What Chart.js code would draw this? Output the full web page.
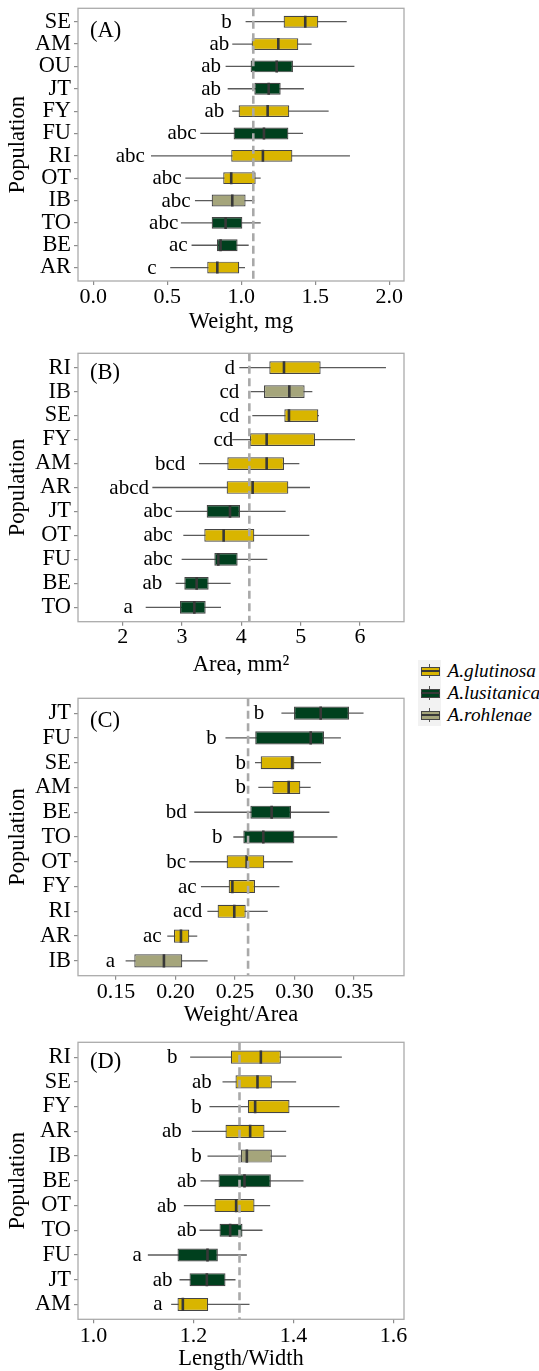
<!DOCTYPE html>
<html>
<head>
<meta charset="utf-8">
<script src="https://cdn.jsdelivr.net/npm/chart.js@4.4.1/dist/chart.umd.min.js"></script>
<style>
html,body{margin:0;padding:0;background:#fff;width:539px;height:1371px;overflow:hidden;position:relative;font-family:'Liberation Serif','Times New Roman',serif;}
canvas{position:absolute;left:0;}
#legend{position:absolute;left:418px;top:660px;}
.row{display:flex;align-items:center;height:22px;}
.key{position:relative;width:23px;height:22px;background:#f2f2f2;flex:none;}
.wh{position:absolute;left:11px;top:4px;width:1.3px;height:14px;background:#555;}
.bx{position:absolute;left:2.5px;top:6.5px;width:19px;height:9px;box-sizing:border-box;border:1.2px solid #454545;}
.md{position:absolute;left:2.5px;top:10px;width:19px;height:2px;background:#383838;}
.lab{font-style:italic;font-size:19.3px;margin-left:6.5px;white-space:nowrap;color:#000;line-height:22px;}
</style>
</head>
<body>
<div id="legend"></div>
<script>
// ---------- Panel A : Weight, mg ----------
const catsA = ['SE','AM','OU','JT','FY','FU','RI','OT','IB','TO','BE','AR'];
const speciesA = ['g','g','l','l','g','l','g','g','r','l','l','g'];
const minA = [1.029,0.939,0.894,0.908,0.939,0.723,0.390,0.622,0.687,0.592,0.664,0.520];
const q1A  = [1.286,1.070,1.063,1.088,0.982,0.948,0.932,0.878,0.800,0.800,0.836,0.770];
const medA = [1.432,1.250,1.239,1.185,1.178,1.153,1.146,0.932,0.939,0.894,0.860,0.838];
const q3A  = [1.520,1.385,1.349,1.266,1.324,1.318,1.345,1.097,1.029,1.007,0.975,0.986];
const maxA = [1.712,1.475,1.764,1.423,1.590,1.417,1.734,1.131,1.088,1.131,1.050,1.025];
const lettersA = ['b','ab','ab','ab','ab','abc','abc','abc','abc','abc','ac','c'];
const letterPosA = [0.935,0.919,0.863,0.863,0.885,0.698,0.349,0.597,0.658,0.574,0.637,0.428];
const meanA = 1.081;
const ticksA = [0,0.5,1,1.5,2];
const tickLabelsA = ['0.0','0.5','1.0','1.5','2.0'];

// ---------- Panel B : Area, mm2 ----------
const catsB = ['RI','IB','SE','FY','AM','AR','JT','OT','FU','BE','TO'];
const speciesB = ['g','r','g','g','g','g','l','g','l','l','l'];
const minB = [3.966,4.157,4.185,3.848,3.287,2.500,2.893,3.022,2.994,2.893,2.388];
const q1B  = [4.472,4.382,4.725,4.146,3.764,3.753,3.416,3.376,3.545,3.039,2.966];
const medB = [4.719,4.809,4.803,4.427,4.427,4.191,3.809,3.702,3.612,3.247,3.208];
const q3B  = [5.337,5.067,5.298,5.242,4.719,4.792,3.978,4.219,3.938,3.449,3.399];
const maxB = [6.438,5.197,5.309,5.916,4.978,5.157,4.747,5.146,4.438,3.820,3.657];
const lettersB = ['d','cd','cd','cd','bcd','abcd','abc','abc','abc','ab','a'];
const letterPosB = [3.893,3.966,3.966,3.865,3.056,2.444,2.843,2.843,2.843,2.669,2.169];
const meanB = 4.135;
const ticksB = [2,3,4,5,6];
const tickLabelsB = ['2','3','4','5','6'];

// ---------- Panel C : Weight/Area ----------
const catsC = ['JT','FU','SE','AM','BE','TO','OT','FY','RI','AR','IB'];
const speciesC = ['l','l','g','g','l','l','g','g','g','g','r'];
const minC = [0.2890,0.2420,0.2668,0.2696,0.2158,0.2486,0.2116,0.2214,0.2268,0.1931,0.1581];
const q1C  = [0.2996,0.2670,0.2716,0.2814,0.2629,0.2570,0.2430,0.2447,0.2354,0.1987,0.1654];
const medC = [0.3220,0.3136,0.2980,0.2951,0.2808,0.2738,0.2598,0.2478,0.2494,0.2046,0.1903];
const q3C  = [0.3458,0.3248,0.2999,0.3049,0.2971,0.2999,0.2746,0.2668,0.2590,0.2116,0.2057];
const maxC = [0.3580,0.3390,0.3223,0.3136,0.3293,0.3360,0.2985,0.2873,0.2775,0.2183,0.2270];
const lettersC = ['b','b','b','b','bd','b','bc','ac','acd','ac','a'];
const letterPosC = [0.2746,0.2346,0.2592,0.2592,0.2094,0.2396,0.2088,0.2178,0.2225,0.1884,0.1492];
const meanC = 0.261;
const ticksC = [0.15,0.20,0.25,0.30,0.35];
const tickLabelsC = ['0.15','0.20','0.25','0.30','0.35'];

// ---------- Panel D : Length/Width ----------
const catsD = ['RI','SE','FY','AR','IB','BE','OT','TO','FU','JT','AM'];
const speciesD = ['g','g','g','g','r','l','g','l','l','l','g'];
const minD = [1.1933,1.2580,1.2320,1.1967,1.2280,1.2140,1.1807,1.2120,1.1087,1.1720,1.1553];
const q1D  = [1.2747,1.2840,1.3087,1.2640,1.2947,1.2500,1.2420,1.2520,1.1680,1.1920,1.1680];
const medD = [1.3347,1.3280,1.3233,1.3133,1.3067,1.3020,1.2853,1.2733,1.2280,1.2267,1.1787];
const q3D  = [1.3747,1.3567,1.3920,1.3420,1.3567,1.3547,1.3220,1.2980,1.2487,1.2640,1.2293];
const maxD = [1.4967,1.4053,1.4920,1.3853,1.3853,1.4200,1.3533,1.3380,1.3067,1.2840,1.3120];
const lettersD = ['b','ab','b','ab','b','ab','ab','ab','a','ab','a'];
const letterPosD = [1.168,1.2367,1.2167,1.1767,1.2167,1.2067,1.1667,1.2067,1.0967,1.158,1.138];
const meanD = 1.292;
const ticksD = [1.0,1.2,1.4,1.6];
const tickLabelsD = ['1.0','1.2','1.4','1.6'];

const speciesNames = ['A.glutinosa','A.lusitanica','A.rohlenae'];
const speciesKeys = ['g','l','r'];

// ---------- styling ----------
const COLORS = {g:'#D9B500', l:'#00401E', r:'#A5A57B'};
const FONT = "'Liberation Serif','Times New Roman',serif";
Chart.defaults.font.family = FONT;
Chart.defaults.color = '#000';

function decorPlugin(cfg) {
  return {
    id: 'decor',
    afterDatasetsDraw(chart) {
      const {ctx} = chart;
      const x = chart.scales.x, y = chart.scales.y;
      ctx.save();
      ctx.font = '21px ' + FONT;
      ctx.fillStyle = '#000';
      ctx.textAlign = 'right';
      ctx.textBaseline = 'middle';
      cfg.letters.forEach((t, i) => {
        ctx.fillText(t, x.getPixelForValue(cfg.letterPos[i]), y.getPixelForValue(i) + 0.5);
      });
      ctx.restore();
    },
    afterDraw(chart) {
      const {ctx, chartArea: a} = chart;
      ctx.save();
      ctx.strokeStyle = '#ababab';
      ctx.lineWidth = 1.3;
      ctx.strokeRect(a.left, a.top, a.right - a.left, a.bottom - a.top);
      ctx.font = '22.5px ' + FONT;
      ctx.fillStyle = '#000';
      ctx.textAlign = 'left';
      ctx.textBaseline = 'middle';
      ctx.fillText(cfg.panel, a.left + 12, a.top + cfg.panelDy);
      ctx.restore();
    }
  };
}

function makePanel(cfg) {
  const n = cfg.cats.length;
  const canvasTop = Math.floor(cfg.plotTop - 8);
  const canvasBottom = Math.ceil(cfg.titleCenter + 15);
  const h = canvasBottom - canvasTop;
  const cv = document.createElement('canvas');
  cv.width = 539; cv.height = h;
  cv.style.top = canvasTop + 'px';
  cv.style.width = '539px'; cv.style.height = h + 'px';
  document.body.appendChild(cv);

  const padTop = cfg.plotTop - canvasTop;
  const xAxisH = canvasBottom - cfg.plotBottom;
  const titlePadBottom = canvasBottom - cfg.titleCenter - 11.25;
  const tickPad = cfg.tickCenter - cfg.plotBottom - 4 - 11;
  const idx = cfg.cats.map((c, i) => i);

  new Chart(cv, {
    type: 'bar',
    data: {
      datasets: [
        {
          type: 'line',
          data: [{x: cfg.mean, y: -0.6}, {x: cfg.mean, y: n - 0.4}],
          borderColor: '#a9a9a9',
          borderWidth: 2.6,
          borderDash: [8, 4.5],
          pointRadius: 0,
          fill: false,
          order: 0
        },
        {
          type: 'scatter',
          data: idx.map(i => ({x: cfg.med[i], y: i})),
          pointStyle: 'line',
          pointRotation: 90,
          pointRadius: cfg.medR,
          borderColor: '#383838',
          pointBorderColor: '#383838',
          backgroundColor: '#383838',
          pointBorderWidth: 2.6,
          borderWidth: 2.6,
          order: 1
        },
        {
          type: 'bar',
          indexAxis: 'y',
          grouped: false,
          data: idx.map(i => ({x: [cfg.q1[i], cfg.q3[i]], y: i})),
          backgroundColor: idx.map(i => COLORS[cfg.species[i]]),
          borderColor: '#454545',
          borderWidth: 1.2,
          borderSkipped: false,
          inflateAmount: 0,
          categoryPercentage: 1,
          barPercentage: 0.53,
          order: 2
        },
        {
          type: 'bar',
          indexAxis: 'y',
          grouped: false,
          data: idx.map(i => ({x: [cfg.min[i], cfg.max[i]], y: i})),
          backgroundColor: '#5a5a5a',
          borderWidth: 0,
          inflateAmount: 0,
          maxBarThickness: 1.3,
          order: 3
        }
      ]
    },
    options: {
      responsive: false,
      animation: false,
      events: [],
      layout: {padding: {left: 0, right: 135, top: padTop, bottom: 0}, autoPadding: false},
      plugins: {legend: {display: false}, tooltip: {enabled: false}},
      scales: {
        x: {
          type: 'linear',
          position: 'bottom',
          offset: false,
          min: cfg.xMin, max: cfg.xMax,
          afterBuildTicks: s => { s.ticks = cfg.ticks.map(v => ({value: v})); },
          afterFit: s => { s.height = xAxisH; s.paddingLeft = 0; s.paddingRight = 0; },
          ticks: {
            callback: (v, i) => cfg.tickLabels[i],
            font: {size: 22, lineHeight: 1},
            color: '#000',
            padding: tickPad,
            maxRotation: 0, autoSkip: false
          },
          grid: {display: true, offset: false, drawOnChartArea: false, drawTicks: true, tickLength: 4, color: '#8c8c8c', lineWidth: 1.2},
          border: {display: false},
          title: {display: true, text: cfg.title, font: {size: 22.5, lineHeight: 1}, color: '#000', padding: {top: 0, bottom: titlePadBottom}}
        },
        y: {
          type: 'linear',
          position: 'left',
          offset: false,
          reverse: true,
          min: -0.6, max: n - 0.4,
          afterBuildTicks: s => { s.ticks = idx.map(i => ({value: i})); },
          afterFit: s => { s.width = 78; s.paddingTop = 0; s.paddingBottom = 0; },
          ticks: {
            callback: (v) => cfg.cats[Math.round(v)],
            font: {size: 22.4, lineHeight: 1},
            color: '#000',
            padding: 3,
            autoSkip: false
          },
          grid: {display: true, offset: false, drawOnChartArea: false, drawTicks: true, tickLength: 4, color: '#8c8c8c', lineWidth: 1.2},
          border: {display: false},
          title: {display: true, text: 'Population', font: {size: 22.5, lineHeight: 1}, color: '#000', padding: {top: 7, bottom: 0}}
        }
      }
    },
    plugins: [decorPlugin(cfg)]
  });
}

makePanel({cats: catsA, species: speciesA, min: minA, q1: q1A, med: medA, q3: q3A, max: maxA,
  letters: lettersA, letterPos: letterPosA, mean: meanA, ticks: ticksA, tickLabels: tickLabelsA,
  xMin: -0.103, xMax: 2.099, plotTop: 8.3, plotBottom: 281, tickCenter: 297, titleCenter: 322.5,
  title: 'Weight, mg', panel: '(A)', panelDy: 22.5, medR: 6});
makePanel({cats: catsB, species: speciesB, min: minB, q1: q1B, med: medB, q3: q3B, max: maxB,
  letters: lettersB, letterPos: letterPosB, mean: meanB, ticks: ticksB, tickLabels: tickLabelsB,
  xMin: 1.247, xMax: 6.742, plotTop: 353.3, plotBottom: 621.7, tickCenter: 637, titleCenter: 665.5,
  title: 'Area, mm²', panel: '(B)', panelDy: 19.5, medR: 6.4});
makePanel({cats: catsC, species: speciesC, min: minC, q1: q1C, med: medC, q3: q3C, max: maxC,
  letters: lettersC, letterPos: letterPosC, mean: meanC, ticks: ticksC, tickLabels: tickLabelsC,
  xMin: 0.1181, xMax: 0.392, plotTop: 698.3, plotBottom: 975.7, tickCenter: 992, titleCenter: 1015,
  title: 'Weight/Area', panel: '(C)', panelDy: 22.5, medR: 6.6});
makePanel({cats: catsD, species: speciesD, min: minD, q1: q1D, med: medD, q3: q3D, max: maxD,
  letters: lettersD, letterPos: letterPosD, mean: meanD, ticks: ticksD, tickLabels: tickLabelsD,
  xMin: 0.969, xMax: 1.621, plotTop: 1042.3, plotBottom: 1319.3, tickCenter: 1336, titleCenter: 1359,
  title: 'Length/Width', panel: '(D)', panelDy: 20.2, medR: 6.6});

// ---------- legend ----------
const legend = document.getElementById('legend');
speciesKeys.forEach((k, i) => {
  const row = document.createElement('div');
  row.className = 'row';
  row.innerHTML = '<div class="key"><div class="wh"></div><div class="bx" style="background:' + COLORS[k] +
    '"></div><div class="md"></div></div><span class="lab">' + speciesNames[i] + '</span>';
  legend.appendChild(row);
});
</script>
</body>
</html>
